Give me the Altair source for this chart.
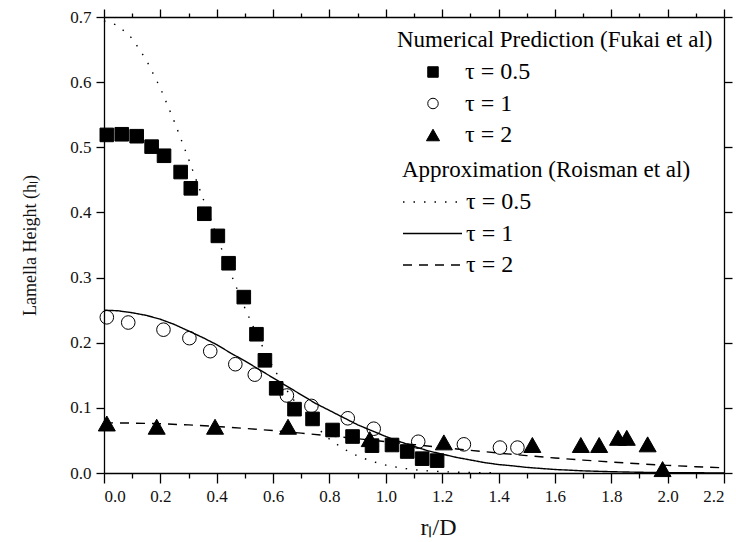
import altair as alt
import pandas as pd

labels = ["τ = 0.5", "τ = 1", "τ = 2"]
# same texts for the line legend (trailing space keeps the two legends apart)
line_labels = ["τ = 0.5 ", "τ = 1 ", "τ = 2 "]

# Numerical prediction (Fukai et al)
sq_x = [0.01, 0.063, 0.116, 0.169, 0.213, 0.272, 0.308, 0.356, 0.404, 0.442, 0.496, 0.541,
        0.571, 0.611, 0.676, 0.740, 0.811, 0.882, 0.951, 1.022, 1.076, 1.129, 1.182]
sq_y = [0.519, 0.520, 0.517, 0.501, 0.487, 0.462, 0.437, 0.398, 0.364, 0.322, 0.270, 0.213,
        0.173, 0.130, 0.098, 0.083, 0.066, 0.056, 0.042, 0.043, 0.033, 0.022, 0.019]
circ_x = [0.01, 0.086, 0.211, 0.303, 0.377, 0.466, 0.535, 0.649, 0.736, 0.865, 0.957,
          1.115, 1.277, 1.405, 1.467]
circ_y = [0.239, 0.231, 0.220, 0.207, 0.187, 0.167, 0.151, 0.119, 0.103, 0.084, 0.068,
          0.048, 0.044, 0.039, 0.039]
tri_x = [0.01, 0.187, 0.394, 0.653, 0.943, 1.206, 1.520, 1.692, 1.757, 1.824, 1.855, 1.929, 1.982]
tri_y = [0.076, 0.071, 0.071, 0.071, 0.052, 0.047, 0.043, 0.043, 0.043, 0.054, 0.054, 0.044, 0.006]

# Approximation (Roisman et al)
dot_x = [0.0, 0.05, 0.1, 0.15, 0.2, 0.25, 0.3, 0.35, 0.4, 0.45, 0.5, 0.55, 0.6, 0.65, 0.7,
         0.75, 0.8, 0.85, 0.9, 0.95, 1.0, 1.05, 1.1, 1.15, 1.2, 1.25, 1.3, 1.35, 1.4]
dot_y = [0.694, 0.687, 0.667, 0.634, 0.591, 0.539, 0.482, 0.423, 0.364, 0.306, 0.253, 0.205,
         0.162, 0.126, 0.096, 0.072, 0.052, 0.037, 0.026, 0.018, 0.012, 0.008, 0.005, 0.0033,
         0.0021, 0.0013, 0.0008, 0.0005, 0.0003]
sol_x = [0.0, 0.05, 0.1, 0.15, 0.2, 0.25, 0.3, 0.35, 0.4, 0.45, 0.5, 0.55, 0.6, 0.65, 0.7,
         0.75, 0.8, 0.85, 0.9, 0.95, 1.0, 1.05, 1.1, 1.15, 1.2, 1.25, 1.3, 1.35, 1.4, 1.45,
         1.5, 1.6, 1.7, 1.8, 1.9, 2.0, 2.1, 2.2]
sol_y = [0.250, 0.249, 0.246, 0.242, 0.236, 0.228, 0.218, 0.208, 0.197, 0.184, 0.172, 0.159,
         0.146, 0.133, 0.120, 0.107, 0.096, 0.085, 0.074, 0.065, 0.056, 0.048, 0.041, 0.034,
         0.029, 0.024, 0.020, 0.016, 0.013, 0.011, 0.0086, 0.0054, 0.0033, 0.0020, 0.0011,
         0.0006, 0.0003, 0.0002]
dash_x = [0.0, 0.1, 0.2, 0.3, 0.4, 0.5, 0.6, 0.7, 0.8, 0.9, 1.0, 1.1, 1.2, 1.3, 1.4, 1.5,
          1.6, 1.7, 1.8, 1.9, 2.0, 2.1, 2.2]
dash_y = [0.077, 0.0766, 0.0756, 0.0738, 0.0714, 0.0685, 0.0651, 0.0612, 0.0570, 0.0526,
          0.0481, 0.0436, 0.0391, 0.0348, 0.0306, 0.0267, 0.0231, 0.0198, 0.0168, 0.0141,
          0.0117, 0.0097, 0.0080]

x_major = [0.0, 0.2, 0.4, 0.6, 0.8, 1.0, 1.2, 1.4, 1.6, 1.8, 2.0, 2.2]
x_minor = [0.1, 0.3, 0.5, 0.7, 0.9, 1.1, 1.3, 1.5, 1.7, 1.9, 2.1]
y_major = [0.0, 0.1, 0.2, 0.3, 0.4, 0.5, 0.6, 0.7]

pts = pd.DataFrame({
    "x": sq_x + circ_x + tri_x,
    "y": sq_y + circ_y + tri_y,
    "series": [labels[0]] * len(sq_x) + [labels[1]] * len(circ_x) + [labels[2]] * len(tri_x),
})
crv = pd.DataFrame({
    "x": dot_x + sol_x + dash_x,
    "y": dot_y + sol_y + dash_y,
    "approx": [line_labels[0]] * len(dot_x) + [line_labels[1]] * len(sol_x)
              + [line_labels[2]] * len(dash_x),
})

FONT = "Liberation Serif"
xs = alt.Scale(domain=[0, 2.2], nice=False, zero=False)
ys = alt.Scale(domain=[0, 0.7], nice=False, zero=False)

TRIANGLE = "M0,-1.1L1.25,1.1L-1.25,1.1Z"

legend_pts = alt.Legend(
    title="Numerical Prediction (Fukai et al)", orient="none", legendX=293, legendY=12,
    titleFont=FONT, titleFontSize=23, titleFontWeight="normal", titleColor="black",
    titlePadding=8, labelFont=FONT, labelFontSize=24, labelColor="black",
    symbolSize=110, symbolOffset=24, labelOffset=20, clipHeight=24, rowPadding=7.5,
    padding=0, symbolStrokeWidth=1, titleLimit=400,
)
legend_lines = alt.Legend(
    title="Approximation (Roisman et al)", orient="none", legendX=298, legendY=142,
    titleFont=FONT, titleFontSize=23, titleFontWeight="normal", titleColor="black",
    titlePadding=8, labelFont=FONT, labelFontSize=24, labelColor="black",
    symbolType="stroke", symbolSize=3481, symbolOffset=0, labelOffset=3, clipHeight=24,
    rowPadding=7.5, padding=0, symbolStrokeColor="black", symbolStrokeWidth=1.5,
    titleLimit=400,
)

x_main = alt.Axis(orient="bottom", values=x_major, format=".1f", tickSize=10,
                  labelFont=FONT, labelFontSize=17, labelPadding=5, labelColor="#111",
                  title="rₗ/D", titleFont=FONT, titleFontSize=24, titleFontWeight="normal",
                  titleColor="#111", titleX=334, titleY=42)
y_main = alt.Axis(orient="left", values=y_major, format=".1f", tickSize=8,
                  labelFont=FONT, labelFontSize=17, labelPadding=5, labelColor="#111",
                  title="Lamella Height (hₗ)", titleFont=FONT, titleFontSize=18,
                  titleFontWeight="normal", titleColor="#111", titlePadding=30)

lines = alt.Chart(crv).mark_line(color="black", strokeWidth=1.4).encode(
    x=alt.X("x:Q", scale=xs, axis=x_main),
    y=alt.Y("y:Q", scale=ys, axis=y_main),
    strokeDash=alt.StrokeDash("approx:N", legend=legend_lines,
                              scale=alt.Scale(domain=line_labels,
                                              range=[[1.5, 9], [1, 0], [9, 7]])),
)

points = alt.Chart(pts).mark_point(strokeWidth=1, opacity=1, size=185).encode(
    x=alt.X("x:Q", scale=xs, axis=None),
    y=alt.Y("y:Q", scale=ys, axis=None),
    shape=alt.Shape("series:N", legend=legend_pts,
                    scale=alt.Scale(domain=labels, range=["square", "circle", TRIANGLE])),
    fill=alt.Fill("series:N", legend=legend_pts,
                  scale=alt.Scale(domain=labels, range=["black", "transparent", "black"])),
    stroke=alt.Stroke("series:N", legend=legend_pts,
                      scale=alt.Scale(domain=labels, range=["black", "black", "black"])),
)

frame = alt.Chart(crv).mark_point(opacity=0).encode(
    x=alt.X("x:Q", scale=xs, axis=alt.Axis(orient="top", values=x_major, labels=False,
                                           tickSize=8, title=None)),
    y=alt.Y("y:Q", scale=ys, axis=alt.Axis(orient="right", values=y_major, labels=False,
                                           tickSize=8, title=None)),
)
minor_bottom = alt.Chart(crv).mark_point(opacity=0).encode(
    x=alt.X("x:Q", scale=xs, axis=alt.Axis(orient="bottom", values=x_minor, labels=False,
                                           domain=False, tickSize=5, title=None)),
    y=alt.Y("y:Q", scale=ys, axis=None),
)
minor_top = alt.Chart(crv).mark_point(opacity=0).encode(
    x=alt.X("x:Q", scale=xs, axis=alt.Axis(orient="top", values=x_minor, labels=False,
                                           domain=False, tickSize=4, title=None)),
    y=alt.Y("y:Q", scale=ys, axis=None),
)

chart = alt.layer(lines, points, frame, minor_bottom, minor_top).resolve_axis(
    x="independent", y="independent"
).properties(
    width=620, height=456,
    autosize=alt.AutoSizeParams(type="none"),
    padding={"left": 104, "top": 17, "right": 12, "bottom": 69},
    background="white",
).configure_view(stroke=None).configure_axis(
    grid=False, domainColor="black", domainWidth=1.3, tickColor="black", tickWidth=1.3,
)

chart.save("out.html", embed_options={"renderer": "svg", "actions": False})
